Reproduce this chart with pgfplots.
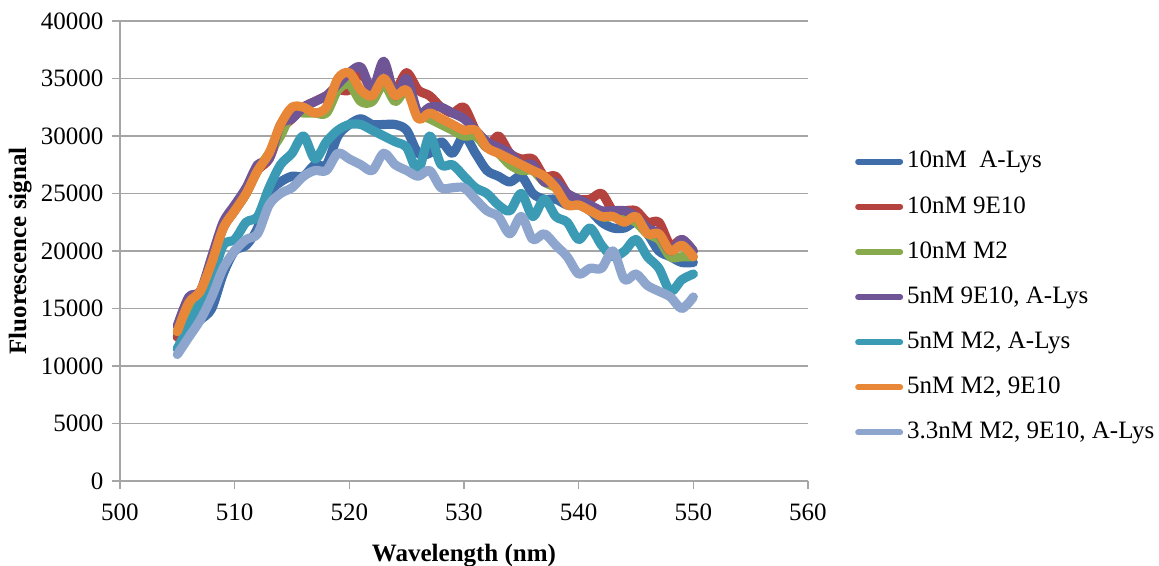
\documentclass[border=0pt]{standalone}
\usepackage{fontspec}
\setmainfont{Liberation Serif}
\usepackage{pgfplots}
\usepackage{pgfplotstable}
\pgfplotsset{compat=1.18}
\definecolor{cA}{RGB}{62,109,170}
\definecolor{cB}{RGB}{180,66,62}
\definecolor{cC}{RGB}{134,170,76}
\definecolor{cD}{RGB}{112,85,150}
\definecolor{cE}{RGB}{60,155,180}
\definecolor{cF}{RGB}{232,135,55}
\definecolor{cG}{RGB}{142,166,206}
\definecolor{gridc}{RGB}{165,165,165}
\pgfplotstableread{
w   A     B     C     D     E     F     G
505 11500 12500 13000 13500 11500 13000 11000
506 13000 15500 14500 16000 13500 15500 12500
507 14000 16000 16000 16500 15500 16500 14000
508 15000 19000 19000 19500 17500 19000 16000
509 18000 22000 22000 22500 20500 22000 18500
510 20000 23500 23500 24000 21000 23500 20000
511 20500 25000 25000 25500 22500 25000 21000
512 22000 27000 27000 27500 23000 27000 21500
513 25000 28000 28500 28000 25500 28500 24000
514 26000 30500 30000 31000 27500 31000 25000
515 26500 31500 32000 31500 28500 32500 25500
516 26500 32500 32000 32500 30000 32500 26500
517 27500 33000 32000 33000 28000 32000 27000
518 27500 33500 32000 33500 29500 32500 27000
519 30000 34000 34000 34500 30500 35000 28500
520 31000 34000 34500 35500 31000 35500 28000
521 31500 35500 33000 36000 31000 34000 27500
522 31000 34000 33000 34000 30500 33500 27000
523 31000 35000 34500 36500 30000 35000 28500
524 31000 34000 33000 33500 29500 33500 27500
525 30500 35500 34000 35000 29000 34000 27000
526 28500 34000 32000 32000 27000 31500 26500
527 28500 33500 31500 32500 30000 32000 27000
528 29500 32500 31000 32500 27500 31500 25500
529 28500 32000 30500 32000 27500 31000 25500
530 30000 32500 30000 31500 26500 30500 25500
531 28500 30500 30000 30500 25500 30500 24500
532 27000 29000 29000 29500 25000 29000 23500
533 26500 30000 28500 29000 24000 28500 23000
534 26000 28500 27500 28500 23500 28000 21500
535 26500 28000 27000 27500 25000 27500 23000
536 25000 28000 27000 27500 23000 27000 21000
537 24500 26500 26000 26000 24500 26500 21500
538 24500 26500 25500 26000 23000 25500 20500
539 24000 25000 24500 25000 22500 24000 19500
540 24000 24500 24000 24500 21000 24000 18000
541 23500 24500 24000 24000 22000 23500 18500
542 22500 25000 23000 23500 20500 23000 18500
543 22000 23500 23000 23500 19500 23000 20000
544 22000 23500 23000 23500 20000 22500 17500
545 22500 23500 22500 23000 21000 23000 18000
546 21500 22500 21500 22000 19500 21500 17000
547 20000 22500 21000 21500 18500 21500 16500
548 19500 20500 19500 20000 16500 20000 16000
549 19000 21000 19500 21000 17500 20500 15000
550 19000 20000 19500 20000 18000 19500 16000
}\datatable
\begin{document}
\fontsize{12.5}{14}\selectfont
\begin{tikzpicture}
\begin{axis}[
  scale only axis,
  width=344pt, height=230pt,
  xmin=500, xmax=560, ymin=0, ymax=40000,
  xtick={500,510,...,560},
  ytick={0,5000,...,40000},
  axis x line*=bottom, axis y line*=left,
  axis line style={gridc, line width=0.8pt, -},
  tick style={gridc, line width=0.8pt},
  tick align=outside, major tick length=4pt,
  ymajorgrids, grid style={gridc, line width=0.8pt},
  scaled y ticks=false,
  /pgf/number format/.cd, 1000 sep={}, assume math mode=true, /pgfplots/.cd,
  ticklabel style={font=\fontsize{12.5}{14}\selectfont},
  xticklabel style={yshift=-3pt},
  xlabel={\textbf{Wavelength (nm)}},
  ylabel={\textbf{Fluorescence signal}},
  label style={font=\fontsize{12.5}{14}\selectfont},
  xlabel style={yshift=-3pt},
  ylabel style={yshift=-4pt},
  clip=false,
  legend cell align=left,
  legend style={draw=none, fill=none, at={(1.068,0.40)}, anchor=west,
    font=\fontsize{12.5}{14}\selectfont, row sep=8.4pt, inner sep=0pt},
  legend image code/.code={\draw[#1, line width=3pt, line cap=round] (0pt,0pt) -- (21pt,0pt);},
  every axis plot/.append style={line width=4.6pt, smooth, tension=0.5, line cap=round, line join=round, no markers},
]
\addplot[cA] table[x=w,y=A]{\datatable};
\addlegendentry{10nM\ \ A-Lys}
\addplot[cB] table[x=w,y=B]{\datatable};
\addlegendentry{10nM 9E10}
\addplot[cC] table[x=w,y=C]{\datatable};
\addlegendentry{10nM M2}
\addplot[cD] table[x=w,y=D]{\datatable};
\addlegendentry{5nM 9E10, A-Lys}
\addplot[cE] table[x=w,y=E]{\datatable};
\addlegendentry{5nM M2, A-Lys}
\addplot[cF] table[x=w,y=F]{\datatable};
\addlegendentry{5nM M2, 9E10}
\addplot[cG] table[x=w,y=G]{\datatable};
\addlegendentry{3.3nM M2, 9E10, A-Lys}
\coordinate (bl) at (rel axis cs:0,0);
\coordinate (tr) at (rel axis cs:1,1);
\end{axis}
\pgfresetboundingbox
\path[use as bounding box] ([shift={(-60pt,-42.5pt)}]bl) rectangle ([shift={(175.5pt,10.5pt)}]tr);
\end{tikzpicture}
\end{document}
